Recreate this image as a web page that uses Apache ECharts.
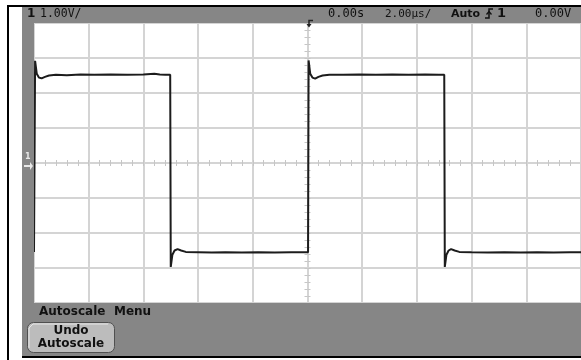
<!DOCTYPE html>
<html>
<head>
<meta charset="utf-8">
<script src="https://cdn.jsdelivr.net/npm/echarts@6/dist/echarts.min.js"></script>
<style>
html,body{margin:0;padding:0;background:#fff;}
#chart{width:581px;height:360px;}
</style>
</head>
<body>
<div id="chart"></div>
<script>
// Time in microseconds (2.00 µs/div, 10 divisions, centred on trigger at 0)
const timeUs = [
  -10.0, -9.97, -9.96, -9.9, -9.82, -9.72, -9.6, -9.45, -9.2, -8.8, -8.3, -7.8, -7.2, -6.6, -6.0, -5.6, -5.4, -5.2, -5.02,
  -5.0, -4.94, -4.86, -4.75, -4.62, -4.45, -4.0, -3.5, -3.0, -2.4, -1.8, -1.2, -0.6, -0.2, 0.02,
  0.04, 0.1, 0.18, 0.28, 0.4, 0.55, 0.8, 1.3, 1.9, 2.5, 3.1, 3.7, 4.3, 4.8, 5.0,
  5.02, 5.08, 5.16, 5.25, 5.38, 5.55, 6.0, 6.6, 7.2, 7.8, 8.4, 9.0, 9.6, 10.0
];
// Channel 1 voltage (1.00 V/div)
const voltsCh1 = [
  -2.54, -2.54, 2.92, 2.55, 2.44, 2.42, 2.46, 2.50, 2.52, 2.51, 2.53, 2.52, 2.53, 2.52, 2.53, 2.55, 2.53, 2.52, 2.52,
  -2.97, -2.62, -2.50, -2.46, -2.50, -2.54, -2.55, -2.56, -2.55, -2.56, -2.55, -2.56, -2.55, -2.55, -2.55,
  2.93, 2.55, 2.44, 2.41, 2.46, 2.50, 2.52, 2.52, 2.53, 2.52, 2.53, 2.52, 2.53, 2.52, 2.52,
  -2.97, -2.62, -2.50, -2.46, -2.50, -2.54, -2.55, -2.56, -2.55, -2.56, -2.55, -2.56, -2.55, -2.55
];
const xRange = [-10, 10];   // µs
const yRange = [-4, 4];     // V
const xStep = 2;
const yStep = 1;

const topLabels = {
  channel: '1',
  scale: '1.00V/',
  delay: '0.00s',
  timebase: '2.00µs/',
  mode: 'Auto',
  trigCh: '1',
  trigLevel: '0.00V'
};
const menuTitle = ['Autoscale', 'Menu'];
const buttonLines = ['Undo', 'Autoscale'];

const chart = echarts.init(document.getElementById('chart'), null, {renderer: 'canvas'});

const gridColor = '#d4d4d4';
const panel = '#868686';
const ink = '#111111';

function xAx(pos) {
  return {
    type: 'value', position: pos, min: xRange[0], max: xRange[1], interval: xStep,
    axisLine: {show: true, onZero: true, lineStyle: {color: gridColor, width: 2}},
    axisTick: {show: true, inside: false, length: 3, lineStyle: {color: '#c6c6c6'}},
    minorTick: {show: true, splitNumber: 5, length: 3, lineStyle: {color: '#c6c6c6'}},
    axisLabel: {show: false},
    splitLine: {show: pos === 'bottom', lineStyle: {color: gridColor, width: 2}}
  };
}
function yAx(pos) {
  return {
    type: 'value', position: pos, min: yRange[0], max: yRange[1], interval: yStep,
    axisLine: {show: true, onZero: true, lineStyle: {color: gridColor, width: 2}},
    axisTick: {show: true, inside: false, length: 3, lineStyle: {color: '#c6c6c6'}},
    minorTick: {show: true, splitNumber: 5, length: 3, lineStyle: {color: '#c6c6c6'}},
    axisLabel: {show: false},
    splitLine: {show: pos === 'left', lineStyle: {color: gridColor, width: 2}}
  };
}

const txt = (text, x, y, font, extra) => Object.assign({
  type: 'text', z: 110,
  style: Object.assign({text: text, x: x, y: y, font: font, fill: ink, textVerticalAlign: 'middle'}, extra || {})
});

const option = {
  backgroundColor: '#ffffff',
  animation: false,
  grid: {left: 34, top: 23, width: 550, height: 280, show: false},
  xAxis: [xAx('bottom'), xAx('top')],
  yAxis: [yAx('left'), yAx('right')],
  series: [{
    type: 'line',
    xAxisIndex: 0, yAxisIndex: 0,
    data: timeUs.map((t, i) => [t, voltsCh1[i]]),
    showSymbol: false,
    lineStyle: {color: '#1c1c1c', width: 2},
    z: 5
  }],
  graphic: [
    // frame lines
    {type: 'rect', z: 100, shape: {x: 7, y: 5, width: 2, height: 355}, style: {fill: '#000'}},
    {type: 'rect', z: 100, shape: {x: 7, y: 5, width: 574, height: 2}, style: {fill: '#000'}},
    // gray panels
    {type: 'rect', z: 100, shape: {x: 22, y: 7, width: 559, height: 16}, style: {fill: panel}},
    {type: 'rect', z: 100, shape: {x: 22, y: 7, width: 12, height: 296}, style: {fill: panel}},
    {type: 'rect', z: 100, shape: {x: 22, y: 303, width: 559, height: 53}, style: {fill: panel}},
    {type: 'rect', z: 100, shape: {x: 22, y: 356, width: 559, height: 2}, style: {fill: '#000'}},
    // ground marker
    txt('1', 25, 157, 'bold 8px DejaVu Sans', {fill: '#e8e8e8'}),
    {type: 'polygon', z: 110, shape: {points: [[24, 165], [30, 165], [30, 162], [33, 166], [30, 170], [30, 167], [24, 167]]}, style: {fill: '#e8e8e8'}},
    // top status text
    txt(topLabels.channel, 27, 14, 'bold 12px DejaVu Sans'),
    txt(topLabels.scale, 40, 14, '11.5px DejaVu Sans Mono'),
    txt(topLabels.delay, 328, 14, '12px DejaVu Sans Mono'),
    txt(topLabels.timebase, 385, 14, '11px DejaVu Sans Mono'),
    txt(topLabels.mode, 451, 14, 'bold 11px DejaVu Sans'),
    txt(topLabels.trigCh, 497, 14, 'bold 13px DejaVu Sans'),
    txt(topLabels.trigLevel, 535, 14, '12px DejaVu Sans Mono'),
    // trigger position marker
    {type: 'polyline', z: 110, shape: {points: [[313, 20.5], [309, 20.5], [309, 25]]}, style: {stroke: '#222', lineWidth: 1.5, fill: null}},
    {type: 'polygon', z: 110, shape: {points: [[306.5, 24], [311.5, 24], [309, 27.5]]}, style: {fill: '#222'}},
    // rising-edge trigger icon
    {type: 'polyline', z: 110, shape: {points: [[485, 18], [489, 18], [489, 9], [493, 9]]}, style: {stroke: '#111', lineWidth: 1.5, fill: null}},
    {type: 'polyline', z: 110, shape: {points: [[486.5, 14.5], [489, 11.5], [491.5, 14.5]]}, style: {stroke: '#111', lineWidth: 1.3, fill: null}},
    // menu
    txt(menuTitle[0], 39, 312, 'bold 12px DejaVu Sans'),
    txt(menuTitle[1], 114, 312, 'bold 12px DejaVu Sans'),
    {type: 'rect', z: 105, shape: {x: 27.5, y: 322.5, width: 87, height: 30, r: 6}, style: {fill: '#bcbcbc', stroke: '#505050', lineWidth: 1}},
    {type: 'polyline', z: 106, shape: {points: [[29, 348], [29, 328], [33, 324], [108, 324]]}, style: {stroke: '#e6e6e6', lineWidth: 1, fill: null}},
    txt(buttonLines[0], 71, 331, 'bold 12px DejaVu Sans', {textAlign: 'center'}),
    txt(buttonLines[1], 71, 344, 'bold 12px DejaVu Sans', {textAlign: 'center'})
  ]
};
chart.setOption(option);
</script>
</body>
</html>
